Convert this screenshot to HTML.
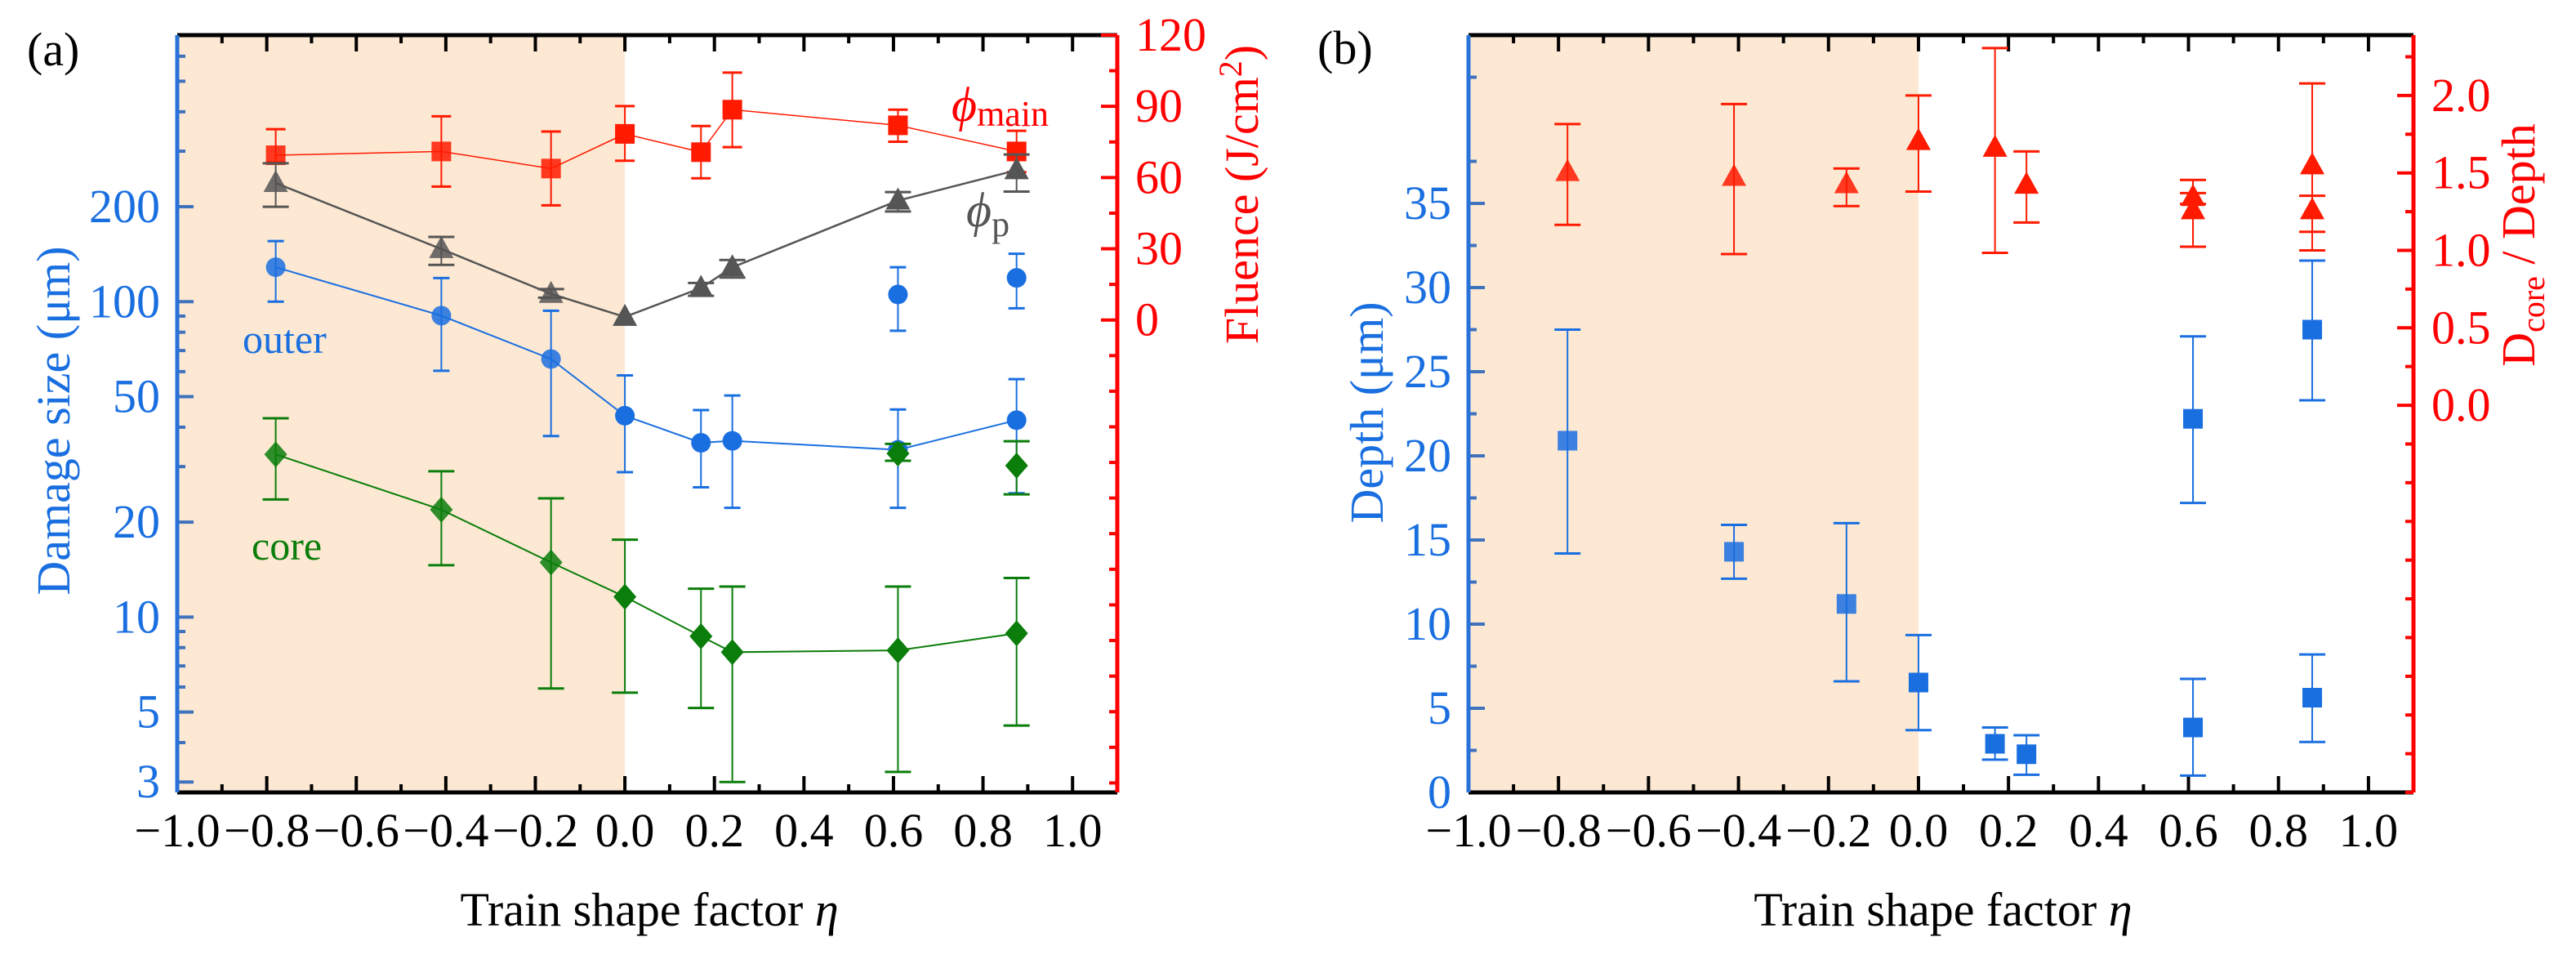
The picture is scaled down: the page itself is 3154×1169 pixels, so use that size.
<!DOCTYPE html>
<html><head><meta charset="utf-8"><style>
html,body{margin:0;padding:0;background:#fff;}
svg, svg text, svg tspan{font-family:"Liberation Serif","DejaVu Serif",serif;}
</style></head><body>
<svg id="chart" width="3154" height="1164" viewBox="0 0 3154 1164" xmlns="http://www.w3.org/2000/svg" font-family="Liberation Serif, DejaVu Serif, serif"></svg>
<script>
// ---- data: panel (a) ----
const etaA = [-0.78, -0.41, -0.165, 0, 0.17, 0.24, 0.61, 0.875];
const outerVal = [128.6, 90.3, 65.8, 43.5, 35.7, 36.2, 33.9, 42.1];
const outerHi = [155.6, 118.8, 93.6, 58.4, 45.3, 50.4, 45.5, 56.8];
const outerLo = [100, 60.4, 37.5, 28.8, 25.8, 22.2, 22.2, 24.7];
const outerExtraEta = [0.61, 0.875];
const outerExtraVal = [105.4, 119];
const outerExtraHi = [128.6, 141.9];
const outerExtraLo = [80.9, 95.3];
const coreVal = [32.8, 21.9, 14.9, 11.6, 8.69, 7.74, 7.84, 8.88];
const coreHi = [42.7, 29.0, 23.8, 17.6, 12.3, 12.5, 12.5, 13.3];
const coreLo = [23.6, 14.6, 5.94, 5.76, 5.15, 3.0, 3.23, 4.53];
const coreExtraEta = [0.61, 0.875];
const coreExtraVal = [33, 30.2];
const coreExtraHi = [35.4, 36.1];
const coreExtraLo = [31.3, 24.5];
const phiPVal = [57.7, 29.9, 11.0, 1.3, 13.5, 22.2, 50.3, 63.1];
const phiPHi = [66, 35, 13, 1.3, 15.6, 25.3, 53.9, 69.7];
const phiPLo = [47.7, 23.2, 9.4, 1.3, 10.2, 17.9, 45.7, 54.1];
const phiMainVal = [69.4, 71.0, 63.8, 78.4, 70.7, 88.6, 82.0, 71.0];
const phiMainHi = [80.4, 85.8, 79.4, 90.1, 81.7, 104.2, 88.6, 79.7];
const phiMainLo = [66.4, 56.2, 48.3, 67.1, 59.7, 72.8, 75.1, 62.3];
const logTickLabels = [3, 5, 10, 20, 50, 100, 200];
const fluenceTickLabels = [0, 30, 60, 90, 120];
const xTickLabels = [-1.0, -0.8, -0.6, -0.4, -0.2, 0.0, 0.2, 0.4, 0.6, 0.8, 1.0];
// ---- data: panel (b) ----
const etaB = [-0.78, -0.41, -0.16, 0, 0.17, 0.24, 0.61, 0.61, 0.875, 0.875];
const depthVal = [20.9, 14.3, 11.2, 6.53, 2.89, 2.27, 3.86, 22.2, 5.63, 27.5];
const depthHi = [27.5, 15.9, 16.0, 9.35, 3.86, 3.4, 6.75, 27.1, 8.2, 31.6];
const depthLo = [14.2, 12.7, 6.6, 3.7, 1.95, 1.05, 1.0, 17.2, 3.0, 23.3];
const ratioVal = [1.506, 1.475, 1.427, 1.706, 1.663, 1.424, 1.345, 1.259, 1.549, 1.259];
const ratioHi = [1.816, 1.945, 1.529, 2.0, 2.306, 1.639, 1.455, 1.37, 2.078, 1.353];
const ratioLo = [1.165, 0.976, 1.286, 1.38, 0.984, 1.18, 1.024, 1.30, 1.0, 1.12];
const depthTickLabels = [0, 5, 10, 15, 20, 25, 30, 35];
const ratioTickLabels = [0.0, 0.5, 1.0, 1.5, 2.0];

const NS = "http://www.w3.org/2000/svg";
const FONT = '"Liberation Serif", "DejaVu Serif", serif';
const svg = document.getElementById('chart');
function mk(tag, attrs, parent, name, inter) {
  const e = document.createElementNS(NS, tag);
  for (const k in attrs) e.setAttribute(k, attrs[k]);
  
  
  (parent || svg).appendChild(e);
  return e;
}
function txt(x, y, s, attrs, name, parent) {
  const e = mk('text', Object.assign({x: x, y: y, 'font-family': FONT}, attrs), parent, name, false);
  e.style.fontFamily = FONT;
  e.textContent = s;
  return e;
}
const TOP = 43, BOT = 970;
function linScale(d0, d1, r0, r1) { return v => r0 + (v - d0) / (d1 - d0) * (r1 - r0); }
function logScale(d0, d1, r0, r1) { return v => r0 + (Math.log10(v) - Math.log10(d0)) / (Math.log10(d1) - Math.log10(d0)) * (r1 - r0); }

function xAxis(g, x, L, R) {
  mk('rect', {x: L, y: TOP, width: x(0) - L, height: BOT - TOP, fill: '#fde9d3'}, g, 'shaded-region', false);
  for (let i = 0; i <= 21; i++) {
    const v = -1 + i * 0.1, px = x(v), major = i % 2 === 0;
    const len = major ? 20 : 10;
    mk('line', {x1: px, y1: BOT, x2: px, y2: BOT - len, stroke: '#000', 'stroke-width': 4}, g, 'x-tick', false);
    mk('line', {x1: px, y1: TOP, x2: px, y2: TOP + len, stroke: '#000', 'stroke-width': 4}, g, 'x-top-tick', false);
  }
  xTickLabels.forEach(v => {
    txt(x(v), 1036, (v < 0 ? '\u2212' : '') + Math.abs(v).toFixed(1), {'font-size': 58, 'text-anchor': 'middle', fill: '#000'}, 'x-tick-label', g);
  });
  mk('line', {x1: L, y1: TOP, x2: R, y2: TOP, stroke: '#000', 'stroke-width': 5}, g, 'top-axis', false);
  mk('line', {x1: L, y1: BOT, x2: R, y2: BOT, stroke: '#000', 'stroke-width': 5}, g, 'x-axis', false);
  const t = txt((L + x(1.0)) / 2 + 30, 1133, 'Train shape factor ', {'font-size': 58, 'text-anchor': 'middle', fill: '#000'}, 'x-axis-title', g);
  const ts = document.createElementNS(NS, 'tspan'); ts.setAttribute('font-style', 'italic'); ts.textContent = '\u03b7';
  
  
  t.appendChild(ts);
}
function errbar(g, px, y1, y2, color, cap, sw, name) {
  mk('line', {x1: px, y1: y1, x2: px, y2: y2, stroke: color, 'stroke-width': sw}, g, name, false);
  mk('line', {x1: px - cap, y1: y1, x2: px + cap, y2: y1, stroke: color, 'stroke-width': sw + 1}, g, name + '-cap', false);
  mk('line', {x1: px - cap, y1: y2, x2: px + cap, y2: y2, stroke: color, 'stroke-width': sw + 1}, g, name + '-cap', false);
}
function marker(g, shape, px, py, color, name, op) {
  const o = op || 1;
  if (shape === 'circle') mk('circle', {cx: px, cy: py, r: 12, fill: color, opacity: o}, g, name, false);
  else if (shape === 'square') mk('rect', {x: px - 12, y: py - 12, width: 24, height: 24, fill: color, opacity: o}, g, name, false);
  else if (shape === 'diamond') mk('polygon', {points: `${px},${py - 16} ${px + 14},${py} ${px},${py + 16} ${px - 14},${py}`, fill: color, opacity: o}, g, name, false);
  else mk('polygon', {points: `${px},${py - 16} ${px + 15},${py + 11} ${px - 15},${py + 11}`, fill: color, opacity: o}, g, name, false);
}
function series(g, xs, vals, hi, lo, x, y, color, shape, name, line, lw, cap) {
  if (line) {
    const pts = xs.map((v, i) => x(v) + ',' + y(vals[i])).join(' ');
    mk('polyline', {points: pts, fill: 'none', stroke: color, 'stroke-width': lw}, g, name + '-line', false);
  }
  xs.forEach((v, i) => {
    if (hi[i] !== lo[i]) errbar(g, x(v), y(hi[i]), y(lo[i]), color, cap, 2, name + '-errorbar');
    marker(g, shape, x(v), y(vals[i]), color, name + '-point', v < 0 ? 0.85 : 1);
  });
}

// ---------- Panel A ----------
const gA = mk('g', {}, svg, 'panel-a', false);
const LA = 217, RA = 1368;
const xA = linScale(-1, 1.1, LA, RA);
const yA = logScale(2.78, 700, BOT, TOP);
const yF = linScale(-199, 120, BOT, TOP);
xAxis(gA, xA, LA, RA);
[3,4,5,6,7,8,9,10,20,30,40,50,60,70,80,90,100,200,300,400,500,600].forEach(v => {
  const major = logTickLabels.indexOf(v) >= 0;
  mk('line', {x1: LA, y1: yA(v), x2: LA + (major ? 20 : 10), y2: yA(v), stroke: '#3f72bd', 'stroke-width': 4}, gA, 'y-left-tick', false);
});
logTickLabels.forEach(v => txt(196, yA(v) + 19, String(v), {'font-size': 58, 'text-anchor': 'end', fill: '#1a6fe0'}, 'y-left-tick-label', gA));
mk('line', {x1: LA, y1: TOP, x2: LA, y2: BOT, stroke: '#2a72d8', 'stroke-width': 5}, gA, 'y-left-axis', false);
txt(0, 0, 'Damage size (\u03bcm)', {'font-size': 58, 'text-anchor': 'middle', fill: '#1a6fe0', transform: 'translate(85,515) rotate(-90)'}, 'y-left-axis-title', gA);
for (let v = -195; v <= 120; v += 15) {
  const major = v % 30 === 0 && v >= 0;
  mk('line', {x1: RA, y1: yF(v), x2: RA - (major ? 20 : 10), y2: yF(v), stroke: '#ff0000', 'stroke-width': 4}, gA, 'y-right-tick', false);
}
fluenceTickLabels.forEach(v => txt(1390, yF(v) + 19, String(v), {'font-size': 58, fill: '#ff0000'}, 'y-right-tick-label', gA));
mk('line', {x1: RA, y1: TOP, x2: RA, y2: BOT, stroke: '#ff0000', 'stroke-width': 5}, gA, 'y-right-axis', false);
const ft = txt(0, 0, 'Fluence (J/cm', {'font-size': 58, 'text-anchor': 'middle', fill: '#ff0000', transform: 'translate(1540,238) rotate(-90)'}, 'y-right-axis-title', gA);
const sup = document.createElementNS(NS, 'tspan'); sup.setAttribute('dy', -20); sup.setAttribute('font-size', 40); sup.textContent = '2';


ft.appendChild(sup);
const cl = document.createElementNS(NS, 'tspan'); cl.setAttribute('dy', 20); cl.textContent = ')';


ft.appendChild(cl);

series(gA, etaA, phiMainVal, phiMainHi, phiMainLo, xA, yF, '#ff1a00', 'square', 'phi-main', true, 1.5, 12);
series(gA, etaA, phiPVal, phiPHi, phiPLo, xA, yF, '#555555', 'triangle', 'phi-p', true, 2.5, 16);
series(gA, etaA, outerVal, outerHi, outerLo, xA, yA, '#1a6fe0', 'circle', 'outer', true, 2, 10);
series(gA, outerExtraEta, outerExtraVal, outerExtraHi, outerExtraLo, xA, yA, '#1a6fe0', 'circle', 'outer-extra', false, 2, 10);
series(gA, etaA, coreVal, coreHi, coreLo, xA, yA, '#0a7d0a', 'diamond', 'core', true, 2, 16);
series(gA, coreExtraEta, coreExtraVal, coreExtraHi, coreExtraLo, xA, yA, '#0a7d0a', 'diamond', 'core-extra', false, 2, 16);

txt(297, 432, 'outer', {'font-size': 50, fill: '#1a6fe0'}, 'outer-label', gA);
txt(308, 685, 'core', {'font-size': 50, fill: '#0a7d0a'}, 'core-label', gA);
const pm = txt(1165, 148, '\u03d5', {'font-size': 60, fill: '#ff0000', 'font-style': 'italic'}, 'phi-main-label', gA);
const pms = document.createElementNS(NS, 'tspan'); pms.setAttribute('font-size', 44); pms.setAttribute('font-style', 'normal'); pms.setAttribute('dy', 6); pms.textContent = 'main';


pm.appendChild(pms);
const pp = txt(1183, 277, '\u03d5', {'font-size': 60, fill: '#555555', 'font-style': 'italic'}, 'phi-p-label', gA);
const pps = document.createElementNS(NS, 'tspan'); pps.setAttribute('font-size', 44); pps.setAttribute('font-style', 'normal'); pps.setAttribute('dy', 12); pps.textContent = 'p';


pp.appendChild(pps);
txt(33, 80, '(a)', {'font-size': 58, fill: '#000'}, 'panel-a-label', gA);

// ---------- Panel B ----------
const gB = mk('g', {}, svg, 'panel-b', false);
const LB = 1798, RB = 2955;
const xB = linScale(-1, 1.1, LB, RB);
const yD = linScale(0, 45, BOT, TOP);
const yR = linScale(-2.5, 2.39, BOT, TOP);
xAxis(gB, xB, LB, RB);
for (let v = 2.5; v <= 44; v += 2.5) {
  const major = v % 5 === 0 && v <= 35;
  if (v === 40) continue;
  mk('line', {x1: LB, y1: yD(v), x2: LB + (major ? 20 : 10), y2: yD(v), stroke: '#3f72bd', 'stroke-width': 4}, gB, 'y-left-tick', false);
}
depthTickLabels.forEach(v => txt(1777, yD(v) + 19, String(v), {'font-size': 58, 'text-anchor': 'end', fill: '#1a6fe0'}, 'y-left-tick-label', gB));
mk('line', {x1: LB, y1: TOP, x2: LB, y2: BOT, stroke: '#2a72d8', 'stroke-width': 5}, gB, 'y-left-axis', false);
txt(0, 0, 'Depth (\u03bcm)', {'font-size': 58, 'text-anchor': 'middle', fill: '#1a6fe0', transform: 'translate(1693,505) rotate(-90)'}, 'y-left-axis-title', gB);
for (let i = 0; i <= 19; i++) {
  const v = -2.5 + i * 0.25;
  const major = i % 2 === 0 && v >= -0.01;
  mk('line', {x1: RB, y1: yR(v), x2: RB - (major ? 20 : 10), y2: yR(v), stroke: '#ff0000', 'stroke-width': 4}, gB, 'y-right-tick', false);
}
ratioTickLabels.forEach(v => txt(2977, yR(v) + 19, v.toFixed(1), {'font-size': 58, fill: '#ff0000'}, 'y-right-tick-label', gB));
mk('line', {x1: RB, y1: TOP, x2: RB, y2: BOT, stroke: '#ff0000', 'stroke-width': 5}, gB, 'y-right-axis', false);
const rt = txt(0, 0, 'D', {'font-size': 58, 'text-anchor': 'middle', fill: '#ff0000', transform: 'translate(3103,300) rotate(-90)'}, 'y-right-axis-title', gB);
const rs = document.createElementNS(NS, 'tspan'); rs.setAttribute('font-size', 40); rs.setAttribute('dy', 12); rs.textContent = 'core';


rt.appendChild(rs);
const rr = document.createElementNS(NS, 'tspan'); rr.setAttribute('dy', -12); rr.textContent = ' / Depth';


rt.appendChild(rr);

series(gB, etaB, ratioVal, ratioHi, ratioLo, xB, yR, '#ff1a00', 'triangle', 'ratio', false, 2, 16);
series(gB, etaB, depthVal, depthHi, depthLo, xB, yD, '#1a6fe0', 'square', 'depth', false, 2, 16);
txt(1613, 78, '(b)', {'font-size': 58, fill: '#000'}, 'panel-b-label', gB);
</script>
</body></html>
